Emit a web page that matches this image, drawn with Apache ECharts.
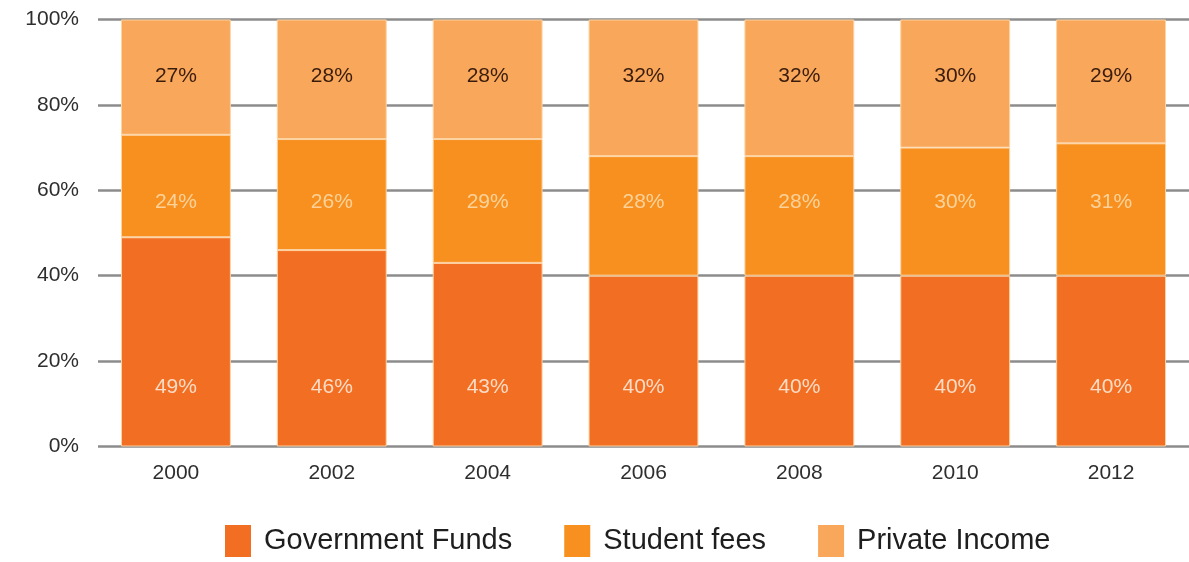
<!DOCTYPE html>
<html>
<head>
<meta charset="utf-8">
<script src="https://cdn.jsdelivr.net/npm/echarts@6/dist/echarts.min.js"></script>
<style>
html,body{margin:0;padding:0;background:#fff;}
#chart{width:1189px;height:562px;}
</style>
</head>
<body>
<div id="chart"></div>
<script>
const years = ['2000', '2002', '2004', '2006', '2008', '2010', '2012'];
const governmentFunds = [49, 46, 43, 40, 40, 40, 40];
const studentFees = [24, 26, 29, 28, 28, 30, 31];
const privateIncome = [27, 28, 28, 32, 32, 30, 29];
const yTicks = [0, 20, 40, 60, 80, 100];

const colors = { gov: '#f26e22', stu: '#f7901f', pri: '#f9a75b' };
const sepColor = '#fdd3a2';
const FONT = '"Liberation Sans", Arial, sans-serif';
// fixed height (in axis %) at which the student-fee labels sit in the reference
const studentLabelLevel = 57.3;

const chart = echarts.init(document.getElementById('chart'), null, { renderer: 'canvas' });

const barBase = {
  type: 'bar',
  stack: 'total',
  barCategoryGap: '29.5%'
};

chart.setOption({
  animation: false,
  backgroundColor: '#ffffff',
  grid: { left: 98, top: 19.5, width: 1098, height: 427, containLabel: false },
  legend: {
    data: ['Government Funds', 'Student fees', 'Private Income'],
    left: 225,
    top: 525,
    padding: 0,
    itemWidth: 26,
    itemHeight: 32,
    itemGap: 52,
    icon: 'rect',
    itemStyle: { borderWidth: 0 },
    textStyle: { fontFamily: FONT, fontSize: 29, color: '#1e1e1e', padding: [0, 0, 0, 8] }
  },
  xAxis: [{
    type: 'category',
    data: years,
    axisLine: { show: false },
    axisTick: { show: false },
    axisLabel: { fontFamily: FONT, fontSize: 21, color: '#2e2e2e', margin: 16 }
  }],
  yAxis: [{
    type: 'value',
    min: yTicks[0],
    max: yTicks[yTicks.length - 1],
    interval: yTicks[1] - yTicks[0],
    axisLine: { show: false },
    axisTick: { show: false },
    axisLabel: { fontFamily: FONT, fontSize: 21, color: '#2e2e2e', margin: 19, formatter: '{value}%' },
    splitLine: { show: true, lineStyle: { color: '#8c8c8c', width: 2.5 } }
  }],
  series: [
    Object.assign({}, barBase, {
      name: 'Government Funds',
      data: governmentFunds,
      itemStyle: { color: colors.gov, borderColor: sepColor, borderWidth: 1 },
      label: {
        show: true, position: 'insideBottom', distance: 49,
        formatter: '{c}%', fontFamily: FONT, fontSize: 21, color: '#fcdcc4'
      }
    }),
    Object.assign({}, barBase, {
      name: 'Student fees',
      data: studentFees,
      itemStyle: { color: colors.stu, borderColor: sepColor, borderWidth: 1 },
      label: { show: false }
    }),
    Object.assign({}, barBase, {
      name: 'Private Income',
      data: privateIncome,
      itemStyle: { color: colors.pri, borderColor: sepColor, borderWidth: 1 },
      label: {
        show: true, position: 'insideTop', distance: 46,
        formatter: '{c}%', fontFamily: FONT, fontSize: 21, color: '#3a1c0c'
      }
    }),
    {
      type: 'scatter',
      name: 'studentLabels',
      silent: true,
      symbolSize: 0,
      z: 5,
      data: years.map(() => studentLabelLevel),
      label: {
        show: true, position: 'inside',
        formatter: (p) => studentFees[p.dataIndex] + '%',
        fontFamily: FONT, fontSize: 21, color: '#fde2b8'
      }
    }
  ]
});
</script>
</body>
</html>
